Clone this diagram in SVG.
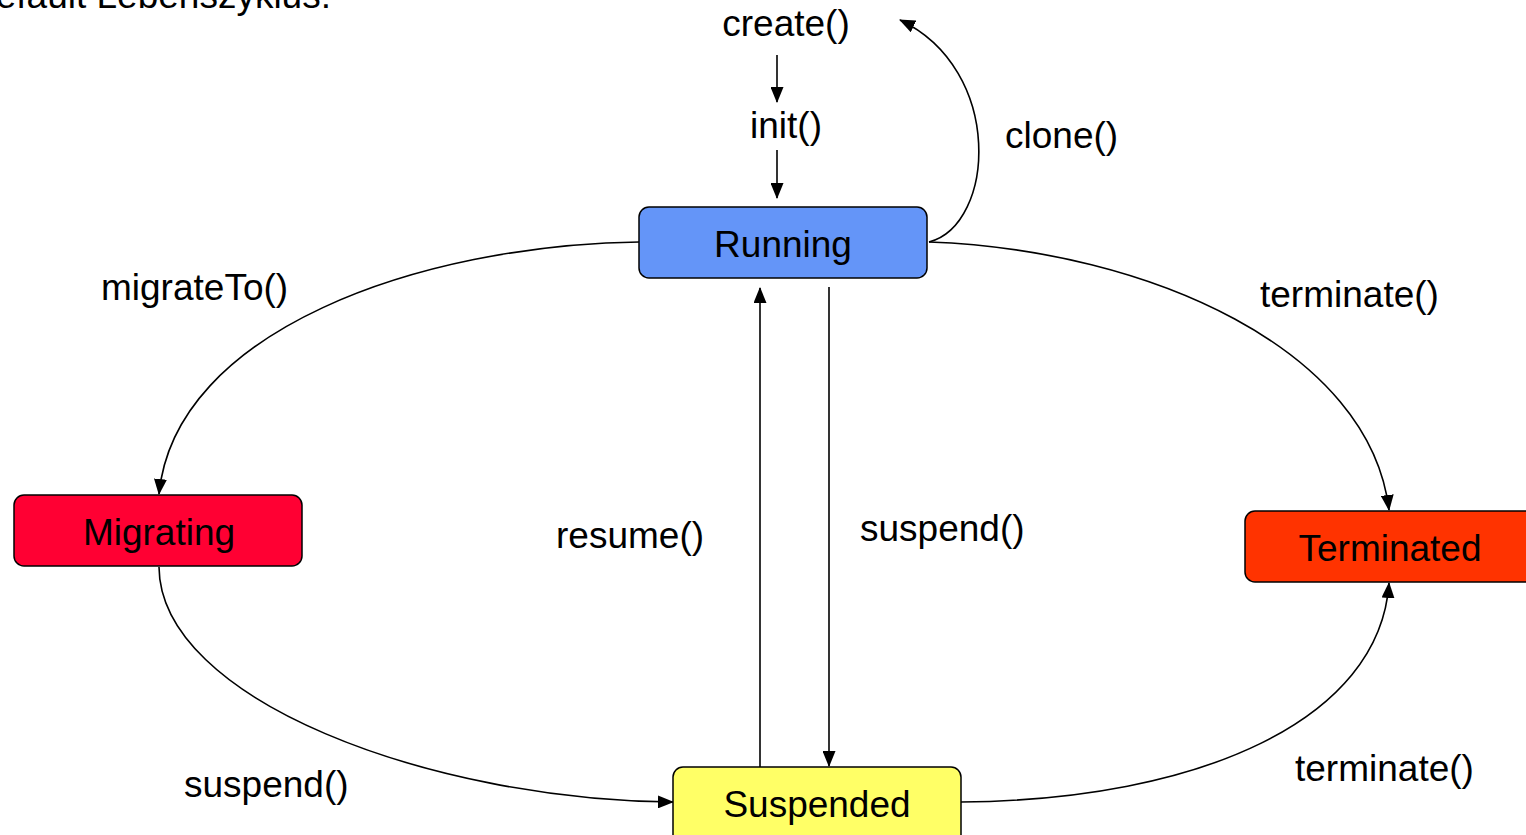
<svg xmlns="http://www.w3.org/2000/svg" width="1526" height="835" viewBox="0 0 1526 835">
<style>
text{font-family:"Liberation Sans",Arial,sans-serif;font-size:37px;fill:#000}
.node{stroke:#000;stroke-width:1.5}
.c{fill:none;stroke:#000;stroke-width:1.6}
.m{text-anchor:middle}
</style>
<defs>
<marker id="ah" markerWidth="16" markerHeight="13" refX="15" refY="6.5" orient="auto" markerUnits="userSpaceOnUse">
<path d="M0,0 L16,6.5 L0,13 Z" fill="#000"/>
</marker>
</defs>
<rect width="1526" height="835" fill="#fff"/>
<text x="-31" y="8">Default Lebenszyklus:</text>
<g id="connectors">
<line class="c" x1="777" y1="55" x2="777" y2="102" marker-end="url(#ah)"/>
<line class="c" x1="777" y1="150" x2="777" y2="198" marker-end="url(#ah)"/>
<path class="c" d="M929,242 C995,225 1005,70 900,20" marker-end="url(#ah)"/>
<path class="c" d="M639,242 C420,245 175,330 159,494" marker-end="url(#ah)"/>
<path class="c" d="M929,242 C1150,250 1370,350 1389,510" marker-end="url(#ah)"/>
<path class="c" d="M159,567 C160,700 430,800 673,802" marker-end="url(#ah)"/>
<path class="c" d="M961,802 C1200,800 1380,720 1389,583" marker-end="url(#ah)"/>
<line class="c" x1="760" y1="767" x2="760" y2="288" marker-end="url(#ah)"/>
<line class="c" x1="829" y1="287" x2="829" y2="766" marker-end="url(#ah)"/>
</g>
<g id="labels">
<text x="786" y="36" class="m">create()</text>
<text x="786" y="138" class="m">init()</text>
<text x="1005" y="148">clone()</text>
<text x="101" y="300">migrateTo()</text>
<text x="1260" y="307">terminate()</text>
<text x="556" y="548">resume()</text>
<text x="860" y="541">suspend()</text>
<text x="184" y="797">suspend()</text>
<text x="1295" y="781">terminate()</text>
</g>
<g id="running">
<rect class="node" x="639" y="207" width="288" height="71" rx="10" fill="#6495F8"/>
<text x="783" y="257" class="m">Running</text>
</g>
<g id="migrating">
<rect class="node" x="14" y="495" width="288" height="71" rx="10" fill="#FF0033"/>
<text x="159" y="545" class="m">Migrating</text>
</g>
<g id="terminated">
<rect class="node" x="1245" y="511" width="290" height="71" rx="10" fill="#FF3300"/>
<text x="1390" y="561" class="m">Terminated</text>
</g>
<g id="suspended">
<rect class="node" x="673" y="767" width="288" height="80" rx="10" fill="#FFFF66"/>
<text x="817" y="817" class="m">Suspended</text>
</g>
</svg>
